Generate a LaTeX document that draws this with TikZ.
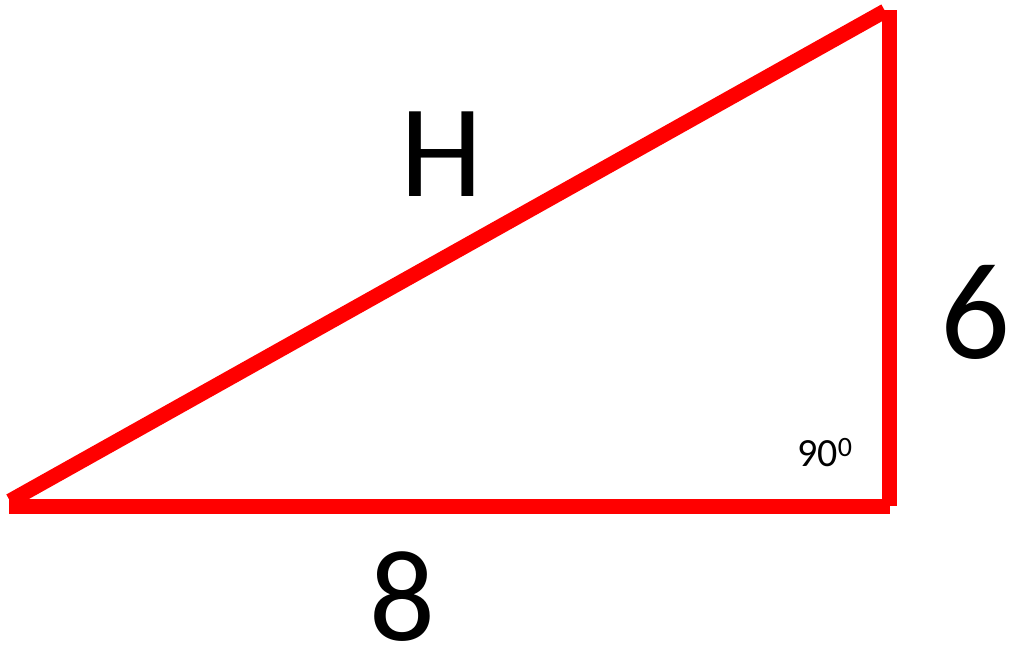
\documentclass[tikz,border=0pt]{standalone}
\usepackage{fontspec}
\setmainfont{Carlito}
\begin{document}
\begin{tikzpicture}[x=1pt,y=-1pt,
  side/.style={draw=red,line width=15pt,line cap=butt},
  lbl/.style={inner sep=0pt,text=black}]
\useasboundingbox (0,0) rectangle (1012,654);
\coordinate (A) at (9,506);
\coordinate (B) at (890,506);
\coordinate (Bv) at (889.5,506);
\coordinate (C) at (889.5,10);
\coordinate (Hl) at (10,501);
\coordinate (Hr) at (885,11);
\draw[side] (A) -- (B);
\draw[side] (Bv) -- (C);
\draw[side] (Hl) -- (Hr);
\node[lbl,anchor=base] (h) at (442,196) {\fontsize{132}{140}\selectfont H};
\node[lbl,anchor=base] (six) at (975,358) {\fontsize{138}{150}\selectfont 6};
\node[lbl,anchor=base] (eight) at (402,640) {\fontsize{130}{140}\selectfont 8};
\node[lbl,anchor=base west] (ang) at (797,466) {\fontsize{40}{44}\selectfont 90\textsuperscript{0}};
\end{tikzpicture}
\end{document}
